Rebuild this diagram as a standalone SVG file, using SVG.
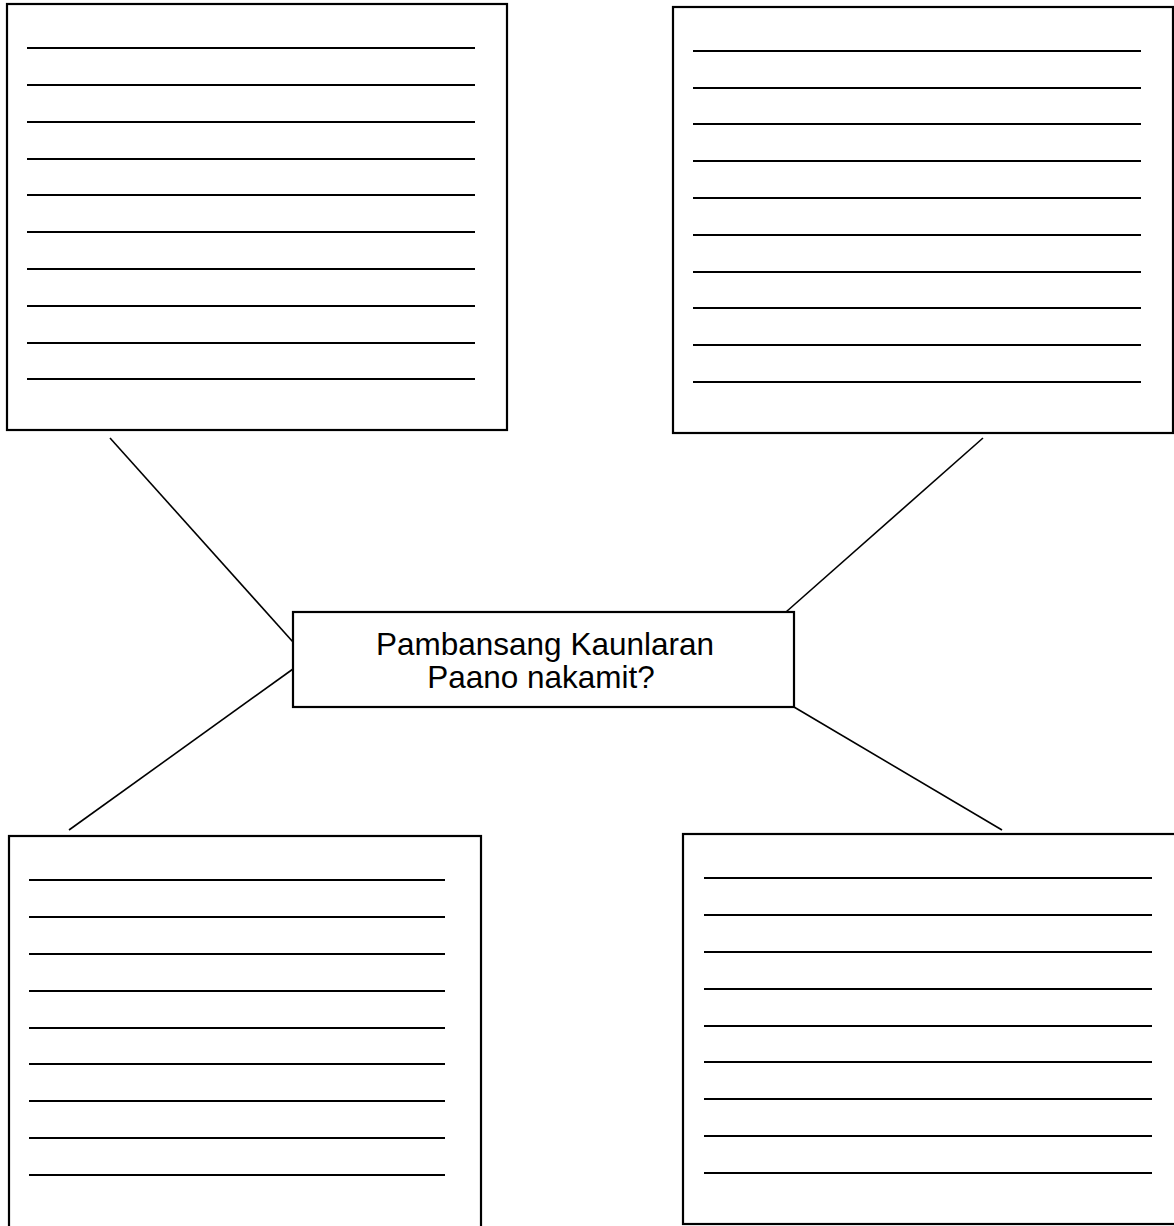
<svg xmlns="http://www.w3.org/2000/svg" width="1174" height="1226" viewBox="0 0 1174 1226">
<style>
.box{fill:#fff;stroke:#000;stroke-width:2.2}
.rule{stroke:#000;stroke-width:2}
.conn{stroke:#000;stroke-width:1.6;fill:none}
.lbl{font-family:"Liberation Sans",Arial,sans-serif;font-size:31.5px;fill:#000;text-anchor:middle}
</style>
<rect width="1174" height="1226" fill="#fff"/>
<g id="connectors">
<line class="conn" x1="110" y1="438" x2="293" y2="642"/>
<line class="conn" x1="983" y1="438" x2="786" y2="612"/>
<line class="conn" x1="69" y1="830" x2="293" y2="669"/>
<line class="conn" x1="794" y1="707" x2="1002" y2="830"/>
</g>
<g id="box-top-left">
<rect class="box" x="7" y="4" width="500" height="426"/>
<g class="rule">
<line x1="27" y1="48" x2="475" y2="48"/>
<line x1="27" y1="85" x2="475" y2="85"/>
<line x1="27" y1="122" x2="475" y2="122"/>
<line x1="27" y1="159" x2="475" y2="159"/>
<line x1="27" y1="195" x2="475" y2="195"/>
<line x1="27" y1="232" x2="475" y2="232"/>
<line x1="27" y1="269" x2="475" y2="269"/>
<line x1="27" y1="306" x2="475" y2="306"/>
<line x1="27" y1="343" x2="475" y2="343"/>
<line x1="27" y1="379" x2="475" y2="379"/>
</g>
</g>
<g id="box-top-right">
<rect class="box" x="673" y="7" width="500" height="426"/>
<g class="rule">
<line x1="693" y1="51" x2="1141" y2="51"/>
<line x1="693" y1="88" x2="1141" y2="88"/>
<line x1="693" y1="124" x2="1141" y2="124"/>
<line x1="693" y1="161" x2="1141" y2="161"/>
<line x1="693" y1="198" x2="1141" y2="198"/>
<line x1="693" y1="235" x2="1141" y2="235"/>
<line x1="693" y1="272" x2="1141" y2="272"/>
<line x1="693" y1="308" x2="1141" y2="308"/>
<line x1="693" y1="345" x2="1141" y2="345"/>
<line x1="693" y1="382" x2="1141" y2="382"/>
</g>
</g>
<g id="box-bottom-left">
<rect class="box" x="9" y="836" width="472" height="392"/>
<g class="rule">
<line x1="29" y1="880" x2="445" y2="880"/>
<line x1="29" y1="917" x2="445" y2="917"/>
<line x1="29" y1="954" x2="445" y2="954"/>
<line x1="29" y1="991" x2="445" y2="991"/>
<line x1="29" y1="1028" x2="445" y2="1028"/>
<line x1="29" y1="1064" x2="445" y2="1064"/>
<line x1="29" y1="1101" x2="445" y2="1101"/>
<line x1="29" y1="1138" x2="445" y2="1138"/>
<line x1="29" y1="1175" x2="445" y2="1175"/>
</g>
</g>
<g id="box-bottom-right">
<rect class="box" x="683" y="834" width="500" height="390"/>
<g class="rule">
<line x1="704" y1="878" x2="1152" y2="878"/>
<line x1="704" y1="915" x2="1152" y2="915"/>
<line x1="704" y1="952" x2="1152" y2="952"/>
<line x1="704" y1="989" x2="1152" y2="989"/>
<line x1="704" y1="1026" x2="1152" y2="1026"/>
<line x1="704" y1="1062" x2="1152" y2="1062"/>
<line x1="704" y1="1099" x2="1152" y2="1099"/>
<line x1="704" y1="1136" x2="1152" y2="1136"/>
<line x1="704" y1="1173" x2="1152" y2="1173"/>
</g>
</g>
<g id="center">
<rect class="box" x="293" y="612" width="501" height="95"/>
<text class="lbl" x="545" y="655">Pambansang Kaunlaran</text>
<text class="lbl" x="541" y="688">Paano nakamit?</text>
</g>
</svg>
